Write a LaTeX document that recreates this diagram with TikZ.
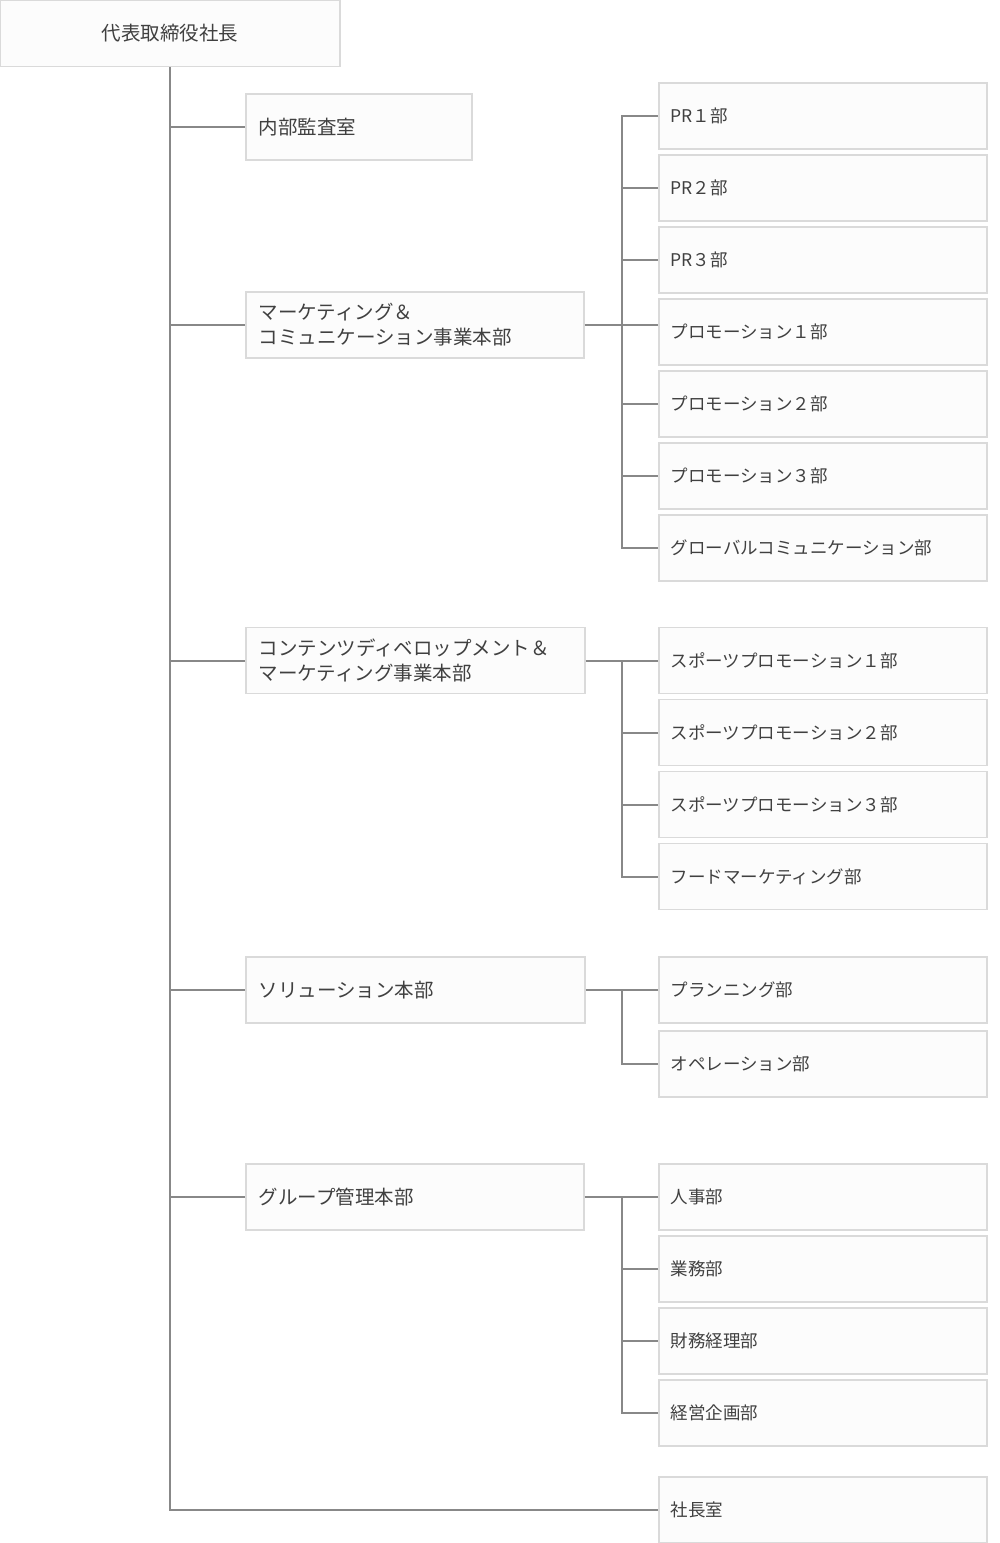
\documentclass[tikz,border=0pt]{standalone}
\usepackage{fontspec}
\setmainfont{Noto Sans CJK JP}
\usepackage{tikz}
\usetikzlibrary{positioning}
\definecolor{linegray}{HTML}{888888}
\definecolor{boxline}{HTML}{DADADA}
\definecolor{boxfill}{HTML}{FCFCFC}
\definecolor{textgray}{HTML}{404040}

\tikzset{
  unit/.style={rectangle, draw=boxline, line width=1.5pt, fill=boxfill, text=textgray,
    minimum height=66pt, inner xsep=12pt, inner ysep=0pt, align=left, anchor=west},
  chief/.style={unit, anchor=center, align=center, text width=316pt,
    font=\fontsize{19.5}{25}\selectfont},
  hq/.style={unit, text width=#1, inner xsep=13pt, font=\fontsize{19.5}{25}\selectfont},
  dept/.style={unit, text width=304pt, font=\fontsize{17.5}{22}\selectfont},
  link/.style={draw=linegray, line width=2pt},
}

\begin{document}
\begin{tikzpicture}[x=1pt, y=-1pt, node distance=4.5pt]
\useasboundingbox (0,0) rectangle (1000,1543);
% nodes
\node[chief] (ceo) at (170,33.5) {代表取締役社長};
\node[hq=200pt] (audit) at (245,127) {内部監査室};
\node[hq=312pt] (mktcom) at (245,325) {マーケティング＆\\コミュニケーション事業本部};
\node[hq=313pt] (content) at (245,660.5) {コンテンツディベロップメント＆\\マーケティング事業本部};
\node[hq=313pt] (solution) at (245,990) {ソリューション本部};
\node[hq=312pt] (group) at (245,1197) {グループ管理本部};
% marketing & communication
\node[dept] (pr1) at (658,116) {PR１部};
\node[dept, below=of pr1] (pr2) {PR２部};
\node[dept, below=of pr2] (pr3) {PR３部};
\node[dept, below=of pr3] (promo1) {プロモーション１部};
\node[dept, below=of promo1] (promo2) {プロモーション２部};
\node[dept, below=of promo2] (promo3) {プロモーション３部};
\node[dept, below=of promo3] (global) {グローバルコミュニケーション部};
% contents development & marketing
\node[dept] (sport1) at (658,660.5) {スポーツプロモーション１部};
\node[dept, below=of sport1] (sport2) {スポーツプロモーション２部};
\node[dept, below=of sport2] (sport3) {スポーツプロモーション３部};
\node[dept, below=of sport3] (food) {フードマーケティング部};
% solution
\node[dept] (plan) at (658,990) {プランニング部};
\node[dept, below=6.5pt of plan] (ops) {オペレーション部};
% group management
\node[dept] (hr) at (658,1197) {人事部};
\node[dept, below=of hr] (affairs) {業務部};
\node[dept, below=of affairs] (finance) {財務経理部};
\node[dept, below=of finance] (corp) {経営企画部};
\node[dept] (office) at (658,1510) {社長室};
% edges
\draw[link] (ceo.south) |- (office.west);
\foreach \n in {audit,mktcom,content,solution,group}
  \draw[link] (ceo.south) |- (\n.west);
\draw[link] (mktcom.east) -- (mktcom.east -| promo1.west);
\draw[link] (pr1.west) -- ++(-36,0) coordinate (bus1) |- (global.west);
\foreach \n in {pr2,pr3,promo2,promo3}
  \draw[link] (bus1 |- \n.west) -- (\n.west);
\draw[link] (content.east) -- (sport1.west);
\draw[link] (sport1.west) -- ++(-36,0) coordinate (bus2) |- (food.west);
\foreach \n in {sport2,sport3}
  \draw[link] (bus2 |- \n.west) -- (\n.west);
\draw[link] (solution.east) -- (plan.west);
\draw[link] (plan.west) -- ++(-36,0) coordinate (bus3) |- (ops.west);
\draw[link] (group.east) -- (hr.west);
\draw[link] (hr.west) -- ++(-36,0) coordinate (bus4) |- (corp.west);
\foreach \n in {affairs,finance}
  \draw[link] (bus4 |- \n.west) -- (\n.west);
\end{tikzpicture}
\end{document}
